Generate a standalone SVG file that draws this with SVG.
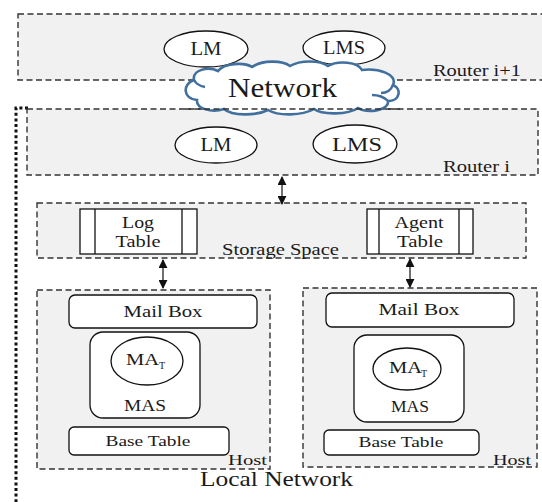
<svg xmlns="http://www.w3.org/2000/svg" width="542" height="502" viewBox="0 0 542 502" font-family="'Liberation Serif', 'DejaVu Serif', serif">
<style>
.zone{fill:#f1f1f1;stroke:#333;stroke-width:1.4;stroke-dasharray:6 3.5}
.box{fill:#fff;stroke:#111;stroke-width:1.3}
.ell{fill:#fff;stroke:#111;stroke-width:1.3}
text{font-family:'Liberation Serif','Times New Roman',serif;fill:#1a1a1a}
.c{text-anchor:middle}
.conn{stroke:#111;stroke-width:1.2;fill:none;marker-start:url(#ah);marker-end:url(#ah)}
.dot{fill:none;stroke:#111;stroke-width:3;stroke-dasharray:3 2.6}
</style>
<defs>
<marker id="ah" viewBox="0 0 10 10" refX="9" refY="5" markerWidth="9" markerHeight="9" markerUnits="userSpaceOnUse" orient="auto-start-reverse">
<path d="M0,0 L10,5 L0,10 Z" fill="#111"/>
</marker>
</defs>
<rect width="542" height="502" fill="#fff"/>

<g id="local-network">
<path class="dot" d="M28,108 H16 V502"/>
<text x="200" y="486" font-size="21" textLength="153" lengthAdjust="spacingAndGlyphs">Local Network</text>
</g>

<g id="router-i1">
<rect class="zone" x="18" y="14" width="530" height="66"/>
<text x="433" y="76" font-size="17" textLength="88" lengthAdjust="spacingAndGlyphs">Router i+1</text>
</g>
<g id="lm-top">
<ellipse class="ell" cx="206" cy="49" rx="42" ry="18"/>
<text class="c" x="206" y="55" font-size="18" textLength="31" lengthAdjust="spacingAndGlyphs">LM</text>
</g>
<g id="lms-top">
<ellipse class="ell" cx="344" cy="48" rx="41" ry="17"/>
<text class="c" x="344" y="54" font-size="18" textLength="42" lengthAdjust="spacingAndGlyphs">LMS</text>
</g>

<g id="router-i">
<rect class="zone" x="27" y="109" width="511" height="66"/>
<text x="443" y="172" font-size="17" textLength="67" lengthAdjust="spacingAndGlyphs">Router i</text>
</g>
<g id="lm">
<ellipse class="ell" cx="216" cy="145" rx="41" ry="18"/>
<text class="c" x="216" y="151" font-size="18" textLength="31" lengthAdjust="spacingAndGlyphs">LM</text>
</g>
<g id="lms">
<ellipse class="ell" cx="355" cy="144" rx="42" ry="19"/>
<text class="c" x="357" y="151" font-size="18" textLength="50" lengthAdjust="spacingAndGlyphs">LMS</text>
</g>

<g id="network">
<path d="M197,100 C183,99 182,84 194,80 C192,70 208,66 218,71 C224,63 244,62 252,67 C262,60 282,60 290,66 C300,60 320,60 328,66 C338,60 358,62 362,70 C378,68 398,74 393,85 C402,89 400,101 388,101 C390,110 368,114 358,108 C348,115 322,115 314,109 C302,116 278,116 268,110 C256,116 232,116 224,109 C212,113 196,109 197,100 Z" fill="#fff" stroke="#41709f" stroke-width="2.6"/>
<path d="M194,80 C196,84 200,86 205,87 M393,85 C391,90 387,93 381,93 M388,101 C384,97 378,95 372,95" fill="none" stroke="#41709f" stroke-width="2.4"/>
<line x1="185" y1="109" x2="400" y2="109" stroke="#333" stroke-width="1.4" stroke-dasharray="6 3.5"/>
<text x="228" y="97" font-size="27" textLength="109" lengthAdjust="spacingAndGlyphs">Network</text>
</g>

<g id="storage-space">
<rect class="zone" x="37" y="203" width="489" height="55"/>
<text x="222" y="255" font-size="17" textLength="117" lengthAdjust="spacingAndGlyphs">Storage Space</text>
</g>
<g id="log-table">
<rect class="box" x="80" y="209" width="117" height="45"/>
<line x1="95" y1="209" x2="95" y2="254" stroke="#111" stroke-width="1.3"/>
<line x1="182" y1="209" x2="182" y2="254" stroke="#111" stroke-width="1.3"/>
<text class="c" x="138" y="228" font-size="17" textLength="32" lengthAdjust="spacingAndGlyphs">Log</text>
<text class="c" x="138" y="247" font-size="17" textLength="45" lengthAdjust="spacingAndGlyphs">Table</text>
</g>
<g id="agent-table">
<rect class="box" x="367" y="209" width="106" height="45"/>
<line x1="379" y1="209" x2="379" y2="254" stroke="#111" stroke-width="1.3"/>
<line x1="459" y1="209" x2="459" y2="254" stroke="#111" stroke-width="1.3"/>
<text class="c" x="419" y="228" font-size="17" textLength="49" lengthAdjust="spacingAndGlyphs">Agent</text>
<text class="c" x="420" y="247" font-size="17" textLength="46" lengthAdjust="spacingAndGlyphs">Table</text>
</g>

<g id="host-left">
<rect class="zone" x="37" y="290" width="233" height="179"/>
<text x="228" y="465" font-size="15" textLength="39" lengthAdjust="spacingAndGlyphs">Host</text>
</g>
<g id="mailbox-left">
<rect class="box" x="69" y="295" width="188" height="33" rx="6"/>
<text class="c" x="163" y="317" font-size="17" textLength="79" lengthAdjust="spacingAndGlyphs">Mail Box</text>
</g>
<g id="mas-left">
<rect class="box" x="90" y="332" width="110" height="86" rx="13"/>
<text class="c" x="145" y="411" font-size="16" textLength="42" lengthAdjust="spacingAndGlyphs">MAS</text>
</g>
<g id="mat-left">
<ellipse class="ell" cx="147" cy="361" rx="36" ry="24"/>
<text x="126" y="365" font-size="16" textLength="33" lengthAdjust="spacingAndGlyphs">MA</text>
<text x="159" y="369" font-size="10">T</text>
</g>
<g id="basetable-left">
<rect class="box" x="69" y="427" width="160" height="28" rx="5"/>
<text class="c" x="148" y="446" font-size="15" textLength="85" lengthAdjust="spacingAndGlyphs">Base Table</text>
</g>

<g id="host-right">
<rect class="zone" x="303" y="288" width="234" height="179"/>
<text x="493" y="465" font-size="15" textLength="38" lengthAdjust="spacingAndGlyphs">Host</text>
</g>
<g id="mailbox-right">
<rect class="box" x="326" y="293" width="188" height="34" rx="6"/>
<text class="c" x="419" y="315" font-size="17" textLength="81" lengthAdjust="spacingAndGlyphs">Mail Box</text>
</g>
<g id="mas-right">
<rect class="box" x="354" y="335" width="110" height="87" rx="13"/>
<text class="c" x="410" y="412" font-size="16" textLength="38" lengthAdjust="spacingAndGlyphs">MAS</text>
</g>
<g id="mat-right">
<ellipse class="ell" cx="407" cy="369" rx="34" ry="21"/>
<text x="389" y="373" font-size="16" textLength="33" lengthAdjust="spacingAndGlyphs">MA</text>
<text x="421" y="377" font-size="10">T</text>
</g>
<g id="basetable-right">
<rect class="box" x="324" y="430" width="155" height="25" rx="5"/>
<text class="c" x="401" y="447" font-size="15" textLength="85" lengthAdjust="spacingAndGlyphs">Base Table</text>
</g>

<g id="connectors">
<line class="conn" x1="282" y1="177" x2="282" y2="204"/>
<line class="conn" x1="163" y1="260" x2="163" y2="288"/>
<line class="conn" x1="410" y1="259" x2="410" y2="287"/>
</g>
</svg>
